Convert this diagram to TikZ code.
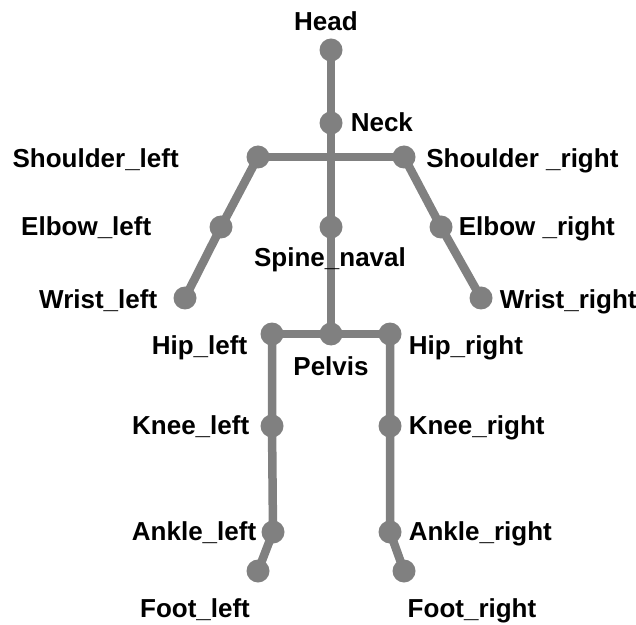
\documentclass[tikz,border=0pt]{standalone}
\usepackage{fontspec}
\setmainfont{Liberation Sans}
\usetikzlibrary{
  positioning,
  backgrounds
}
\definecolor{bonecolor}{RGB}{128, 128, 128}
\definecolor{labelcolor}{RGB}{0, 0, 0}
\tikzset{
joint/.style={
  circle,
  fill=bonecolor,
  inner sep=0pt,
  minimum size=11.5pt
},
bone/.style={
  draw=bonecolor,
  line width=4.25pt
},
jointlabel/.style={
  font=\fontsize{13}{15}\selectfont\bfseries,
  text=labelcolor,
  inner sep=0pt,
  text height=8.95pt,
  text depth=0pt
}
}

\begin{document}
\begin{tikzpicture}[x=0.5pt, y=-0.5pt]
  \useasboundingbox (0,0) rectangle (636,625);

  % Joints - trunk
  \node[joint] (head) at (331,50) {};
  \node[joint] (neck) at (331,123) {};
  \node[joint] (spine) at (331,227) {};
  \node[joint] (pelvis) at (331,334) {};

  % Joints - arms
  \node[joint] (shl) at (258,157) {};
  \node[joint] (shr) at (404,157) {};
  \node[joint] (elbl) at (221,227) {};
  \node[joint] (elbr) at (441,227) {};
  \node[joint] (wrl) at (185,298) {};
  \node[joint] (wrr) at (481,298) {};

  % Joints - legs
  \node[joint] (hipl) at (272,334) {};
  \node[joint] (hipr) at (390,334) {};
  \node[joint] (kneel) at (272,426) {};
  \node[joint] (kneer) at (390,426) {};
  \node[joint] (anklel) at (273,532) {};
  \node[joint] (ankler) at (390,532) {};
  \node[joint] (footl) at (258,571) {};
  \node[joint] (footr) at (404,571) {};

  % Bones
  \begin{scope}[on background layer]
    \draw[bone] (head.center) -- (neck.center) -- (spine.center) -- (pelvis.center);
    \draw[bone] (shl.center) -- (shr.center);
    \draw[bone] (shl.center) -- (elbl.center) -- (wrl.center);
    \draw[bone] (shr.center) -- (elbr.center) -- (wrr.center);
    \draw[bone] (hipl.center) -- (pelvis.center) -- (hipr.center);
    \draw[bone] (hipl.center) -- (kneel.center) -- (anklel.center) -- (footl.center);
    \draw[bone] (hipr.center) -- (kneer.center) -- (ankler.center) -- (footr.center);
  \end{scope}

  % Labels
  \node[jointlabel, above=3.4pt of head, xshift=-2.5pt] (headtext) {Head};
  \node[jointlabel, right=3.75pt of neck] (necktext) {Neck};
  \node[jointlabel, left=33.5pt of shl, yshift=-0.75pt] (shltext) {Shoulder\_left};
  \node[jointlabel, right=5pt of shr, yshift=-0.75pt] (shrtext) {Shoulder \_right};
  \node[jointlabel, left=28.75pt of elbl] (elbltext) {Elbow\_left};
  \node[jointlabel, right=2.75pt of elbr] (elbrtext) {Elbow \_right};
  \node[jointlabel, below=4.75pt of spine, xshift=-0.5pt] (spinetext) {Spine\_naval};
  \node[jointlabel, left=7.75pt of wrl, yshift=-0.75pt] (wrltext) {Wrist\_left};
  \node[jointlabel, right=3.25pt of wrr, yshift=-0.75pt] (wrrtext) {Wrist\_right};
  \node[jointlabel, left=6.25pt of hipl, yshift=-5.75pt] (hipltext) {Hip\_left};
  \node[jointlabel, below=5.75pt of pelvis] (pelvistext) {Pelvis};
  \node[jointlabel, right=3.25pt of hipr, yshift=-5.75pt] (hiprtext) {Hip\_right};
  \node[jointlabel, left=5.25pt of kneel] (kneeltext) {Knee\_left};
  \node[jointlabel, right=3.25pt of kneer] (kneertext) {Knee\_right};
  \node[jointlabel, left=2.25pt of anklel] (ankleltext) {Ankle\_left};
  \node[jointlabel, right=3.25pt of ankler] (anklertext) {Ankle\_right};
  \node[jointlabel, below=8.25pt of footl, xshift=-31.5pt] (footltext) {Foot\_left};
  \node[jointlabel, below=8.25pt of footr, xshift=34pt] (footrtext) {Foot\_right};
\end{tikzpicture}
\end{document}
